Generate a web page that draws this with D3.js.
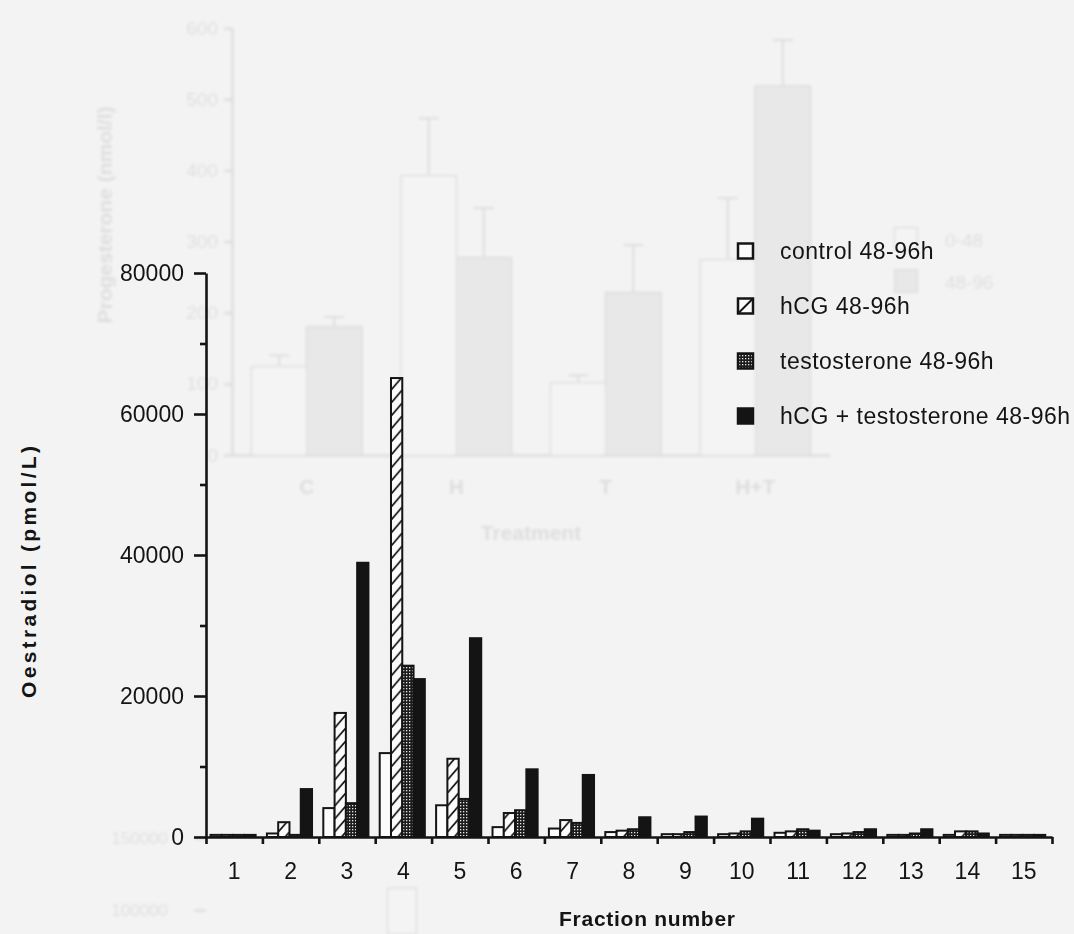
<!DOCTYPE html>
<html>
<head>
<meta charset="utf-8">
<script src="https://cdn.jsdelivr.net/npm/d3@7"></script>
<style>
  html, body { margin: 0; padding: 0; background: #f3f3f3; }
  svg { display: block; font-family: "Liberation Sans", Arial, Helvetica, sans-serif; }
</style>
</head>
<body>
<svg id="chart" width="1074" height="934"></svg>
<script>
// ---- Oestradiol by fraction number ----
const fractions = ["1","2","3","4","5","6","7","8","9","10","11","12","13","14","15"];
const seriesNames = ["control 48-96h", "hCG 48-96h", "testosterone 48-96h", "hCG + testosterone 48-96h"];
const control      = [300,  500,  4100, 11900,  4500, 1400, 1200,  700,  400,  400,  600,  400,  300,  300, 300];
const hcg          = [300, 2100, 17600, 65100, 11100, 3400, 2400,  900,  400,  500,  800,  500,  300,  800, 300];
const testosterone = [300,  300,  4800, 24300,  5400, 3800, 2000, 1100,  700,  800, 1100,  700,  500,  800, 300];
const hcgTest      = [300, 6800, 38900, 22400, 28200, 9600, 8800, 2800, 2900, 2600,  900, 1100, 1100,  500, 300];
const yTicks = [0, 20000, 40000, 60000, 80000];
const yMinorTicks = [10000, 30000, 50000, 70000];

// ---- faint progesterone chart printed on the facing page ----
const ghostTreatments = ["C", "H", "T", "H+T"];
const ghostEarly    = [124, 392, 101, 274];
const ghostLate     = [180, 277, 228, 518];
const ghostEarlyErr = [16, 81, 11, 87];
const ghostLateErr  = [14, 70, 67, 65];
const ghostTicks = [0, 100, 200, 300, 400, 500, 600];
const ghostLegend = ["0-48", "48-96"];
const ghostLowerTicks = [100000, 150000];
const ghostLowerBar = [115000];

const svg = d3.select("#chart");
const ink = "#141414";

// ---------- faint background chart ----------
const defs = svg.append("defs");
defs.append("filter").attr("id", "soft")
  .append("feGaussianBlur").attr("stdDeviation", 1.5);

const ghost = svg.append("g").attr("opacity", 0.09).attr("filter", "url(#soft)");
const gy = d3.scaleLinear().domain([0, 600]).range([455, 28]);
const gx = d3.scaleBand().domain(ghostTreatments).range([232, 830]);
const gsub = d3.scaleBand().domain(["early", "late"]).range([0, gx.bandwidth()]).paddingOuter(0.36);

ghost.append("g").attr("transform", "translate(232,0)")
  .call(d3.axisLeft(gy).tickValues(ghostTicks).tickSize(8).tickPadding(6).tickSizeOuter(0))
  .call(g => g.selectAll("text").attr("font-size", 19).attr("fill", "#000"))
  .call(g => g.selectAll("line,path").attr("stroke", "#000").attr("stroke-width", 2.5));
ghost.append("g").attr("transform", "translate(0,455)")
  .call(d3.axisBottom(gx).tickSize(0).tickPadding(24).tickSizeOuter(0))
  .call(g => g.selectAll("text").attr("font-size", 21).attr("font-weight", "bold").attr("fill", "#000"))
  .call(g => g.select("path").attr("stroke", "#000").attr("stroke-width", 2.5));

ghostTreatments.forEach((t, i) => {
  const pairs = [["early", ghostEarly[i], ghostEarlyErr[i], "#ffffff"], ["late", ghostLate[i], ghostLateErr[i], "#777"]];
  pairs.forEach(([k, v, e, fill]) => {
    const bx = gx(t) + gsub(k), bw = gsub.bandwidth();
    ghost.append("line").attr("x1", bx + bw / 2).attr("x2", bx + bw / 2)
      .attr("y1", gy(v)).attr("y2", gy(v + e)).attr("stroke", "#000").attr("stroke-width", 2);
    ghost.append("line").attr("x1", bx + bw / 2 - 10).attr("x2", bx + bw / 2 + 10)
      .attr("y1", gy(v + e)).attr("y2", gy(v + e)).attr("stroke", "#000").attr("stroke-width", 2);
    ghost.append("rect").attr("x", bx).attr("width", bw)
      .attr("y", gy(v)).attr("height", gy(0) - gy(v))
      .attr("fill", fill).attr("stroke", "#000").attr("stroke-width", 2);
  });
});
ghost.append("text").attr("x", (232 + 830) / 2).attr("y", 540).attr("text-anchor", "middle")
  .attr("font-size", 21).attr("font-weight", "bold").text("Treatment");
ghost.append("text").attr("transform", "translate(112,215) rotate(-90)").attr("text-anchor", "middle")
  .attr("font-size", 21).attr("font-weight", "bold").text("Progesterone  (nmol/l)");
ghostLegend.forEach((name, i) => {
  ghost.append("rect").attr("x", 895).attr("y", 228 + i * 42).attr("width", 22).attr("height", 22)
    .attr("fill", i ? "#777" : "#fff").attr("stroke", "#000").attr("stroke-width", 2);
  ghost.append("text").attr("x", 945).attr("y", 240 + i * 42).attr("dy", "0.35em")
    .attr("font-size", 19).text(name);
});
const gLow = d3.scaleLinear().domain([100000, 150000]).range([910, 838]);
ghost.append("g").attr("transform", "translate(206,0)")
  .call(d3.axisLeft(gLow).tickValues(ghostLowerTicks).tickSize(12).tickPadding(26).tickSizeOuter(0).tickFormat(d3.format("d")))
  .call(g => g.selectAll("text").attr("font-size", 17).attr("fill", "#000"))
  .call(g => g.selectAll("line").attr("stroke", "#000").attr("stroke-width", 2.5))
  .call(g => g.select("path").remove());
ghost.selectAll("rect.low").data(ghostLowerBar).join("rect").attr("class", "low")
  .attr("x", 388).attr("width", 28).attr("y", d => gLow(d)).attr("height", d => 934 - gLow(d))
  .attr("fill", "#fff").attr("stroke", "#000").attr("stroke-width", 2);

// ---------- main chart ----------
const y = d3.scaleLinear().domain([0, 80000]).range([837, 273]);
const x = d3.scaleBand().domain(fractions).range([206, 1052]);
const xs = d3.scaleBand().domain(seriesNames).range([0, x.bandwidth()]).paddingOuter(0.5).align(0.4);
const values = [control, hcg, testosterone, hcgTest];

// fills: open, diagonal hatch, dotted grey, solid black
const hatch = defs.append("pattern").attr("id", "hatch").attr("patternUnits", "userSpaceOnUse")
  .attr("x", x(fractions[0]) + xs(seriesNames[1])).attr("y", 0)
  .attr("width", xs.bandwidth()).attr("height", 13);
hatch.append("rect").attr("width", xs.bandwidth()).attr("height", 13).attr("fill", "#fbfbfb");
hatch.append("path")
  .attr("d", `M0,13L${xs.bandwidth()},0M0,26L${xs.bandwidth()},13M0,0L${xs.bandwidth()},-13`)
  .attr("stroke", ink).attr("stroke-width", 1.8);

const dots = defs.append("pattern").attr("id", "dots").attr("patternUnits", "userSpaceOnUse")
  .attr("width", 3).attr("height", 3);
dots.append("rect").attr("width", 3).attr("height", 3).attr("fill", "#1c1c1c");
dots.append("rect").attr("x", 1).attr("y", 1).attr("width", 1.3).attr("height", 1.3).attr("fill", "#e8e8e8");

const fills = ["#fbfbfb", "url(#hatch)", "url(#dots)", ink];

const bars = svg.append("g");
seriesNames.forEach((s, si) => {
  bars.append("g").selectAll("rect")
    .data(fractions.map((f, i) => ({ f, v: values[si][i] })))
    .join("rect")
    .attr("x", d => x(d.f) + xs(s))
    .attr("width", xs.bandwidth())
    .attr("y", d => y(d.v))
    .attr("height", d => y(0) - y(d.v))
    .attr("fill", fills[si])
    .attr("stroke", ink)
    .attr("stroke-width", 2);
});

// y axis with major and minor ticks
svg.append("g").attr("transform", "translate(206,0)")
  .call(d3.axisLeft(y).tickValues(yTicks).tickSize(12).tickPadding(10).tickSizeOuter(0).tickFormat(d3.format("d")))
  .call(g => g.selectAll("text").attr("font-size", 23).attr("fill", ink))
  .call(g => g.selectAll("line,path").attr("stroke", ink).attr("stroke-width", 2.6));
svg.append("g").attr("transform", "translate(206,0)")
  .call(d3.axisLeft(y).tickValues(yMinorTicks).tickSize(6).tickFormat(""))
  .call(g => g.select("path").remove())
  .call(g => g.selectAll("line").attr("stroke", ink).attr("stroke-width", 2.6));

// x axis: line with boundary ticks, labels centred on each fraction
const xb = d3.scaleLinear().domain([0, fractions.length]).range([206, 1052]);
svg.append("g").attr("transform", "translate(0,837)")
  .call(d3.axisBottom(xb).tickValues(d3.range(fractions.length + 1)).tickSize(7).tickSizeOuter(0).tickFormat(""))
  .call(g => g.selectAll("line,path").attr("stroke", ink).attr("stroke-width", 2.6));
svg.append("g").attr("transform", "translate(0,837)")
  .call(d3.axisBottom(x).tickSize(0).tickPadding(26))
  .call(g => g.select("path").remove())
  .call(g => g.selectAll("text").attr("font-size", 23).attr("fill", ink));

// axis titles
svg.append("text").attr("transform", "translate(36,572) rotate(-90)")
  .attr("text-anchor", "middle").attr("font-size", 21).attr("font-weight", "bold").attr("fill", ink)
  .attr("textLength", 252).attr("lengthAdjust", "spacing")
  .text("Oestradiol  (pmol/L)");
svg.append("text").attr("x", 647).attr("y", 926)
  .attr("text-anchor", "middle").attr("font-size", 21).attr("font-weight", "bold").attr("fill", ink)
  .attr("textLength", 176).attr("lengthAdjust", "spacing")
  .text("Fraction  number");

// legend
const legend = svg.append("g");
seriesNames.forEach((s, i) => {
  const cy = 251 + i * 55;
  legend.append("rect").attr("x", 738).attr("y", cy - 7.5).attr("width", 15).attr("height", 15)
    .attr("fill", i === 1 ? "#fbfbfb" : fills[i]).attr("stroke", ink).attr("stroke-width", 2.5);
  if (i === 1) {
    legend.append("line").attr("x1", 738).attr("y1", cy + 7.5).attr("x2", 753).attr("y2", cy - 7.5)
      .attr("stroke", ink).attr("stroke-width", 2);
  }
  legend.append("text").attr("x", 780).attr("y", cy).attr("dy", "0.35em")
    .attr("font-size", 23).attr("letter-spacing", 0.5).attr("fill", ink).text(s);
});
</script>
</body>
</html>
